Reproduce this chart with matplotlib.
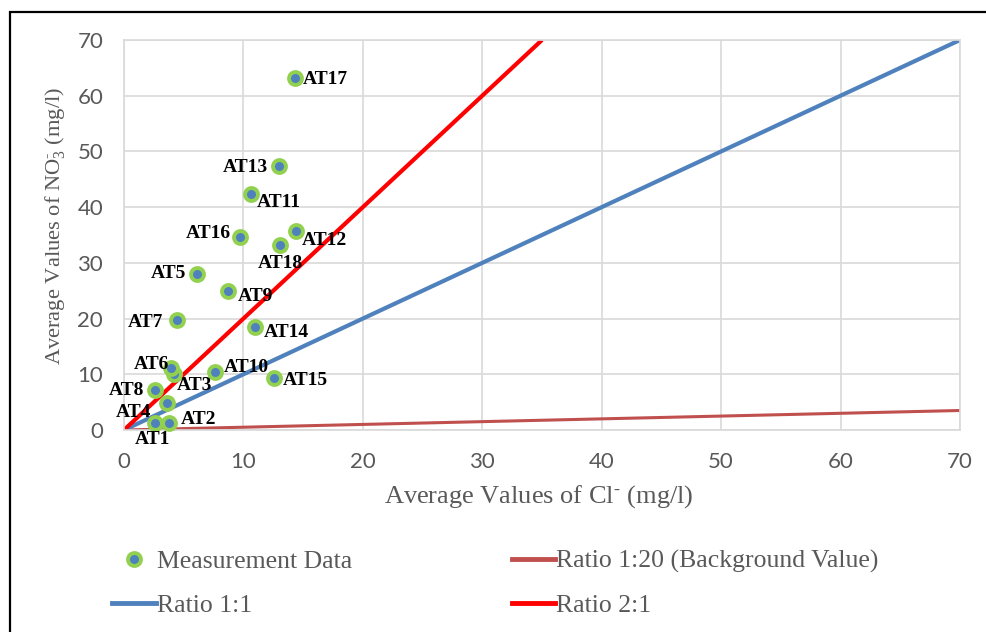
import matplotlib
matplotlib.use('Agg')
import matplotlib.pyplot as plt
from matplotlib.lines import Line2D
from matplotlib.patches import Rectangle

# measurement data: average Cl- and NO3- (mg/l)
sites = ["AT1", "AT2", "AT3", "AT4", "AT5", "AT6", "AT7", "AT8", "AT9",
         "AT10", "AT11", "AT12", "AT13", "AT14", "AT15", "AT16", "AT17", "AT18"]
cl = [2.6, 3.8, 4.2, 3.6, 6.1, 3.9, 4.4, 2.6, 8.7,
      7.6, 10.6, 14.4, 13.0, 11.0, 12.6, 9.7, 14.3, 13.1]
no3 = [1.3, 1.3, 10.0, 4.9, 28.0, 11.1, 19.7, 7.1, 24.9,
       10.5, 42.4, 35.7, 47.4, 18.5, 9.3, 34.6, 63.2, 33.2]

# reference ratio lines (NO3 : Cl)
ratio_x = [0, 70]
ratio_1_20 = [0, 3.5]
ratio_1_1 = [0, 70]
ratio_2_1_x = [0, 35]
ratio_2_1 = [0, 70]

# label placement (offset pixels, alignment) per site
label_pos = {
    "AT1": ((-3, -17), "center"), "AT2": ((11, 3), "left"), "AT3": ((3, -11), "left"),
    "AT4": ((-16, -10), "right"), "AT5": ((-11, 0), "right"), "AT6": ((-1, 4), "right"),
    "AT7": ((-13, -2), "right"), "AT8": ((-11, 0), "right"), "AT9": ((10, -5), "left"),
    "AT10": ((9, 4), "left"), "AT11": ((6, -9), "left"), "AT12": ((6, -9), "left"),
    "AT13": ((-11, -2), "right"), "AT14": ((8, -6), "left"), "AT15": ((8, -2), "left"),
    "AT16": ((-9, 4), "right"), "AT17": ((8, -2), "left"), "AT18": ((0, -18), "center"),
}

grey = "#595959"
serif = "Liberation Serif"
plt.rcParams['mathtext.fontset'] = 'custom'
plt.rcParams['mathtext.rm'] = serif
plt.rcParams['mathtext.it'] = serif

fig = plt.figure(figsize=(9.86, 6.32), dpi=100)
ax = fig.add_axes([124/986, 1 - 430/632, 836/986, 390/632])

ax.plot(ratio_x, ratio_1_20, color="#C0504D", lw=2.2, solid_capstyle='butt', zorder=2)
ax.plot(ratio_x, ratio_1_1, color="#4F81BD", lw=3, solid_capstyle='butt', zorder=2)
ax.plot(ratio_2_1_x, ratio_2_1, color="#FF0000", lw=3, solid_capstyle='butt', zorder=2)
ax.plot(cl, no3, ls='none', marker='o', ms=9.3, mfc="#4F81BD", mec="#92D050", mew=2.8,
        zorder=3, clip_on=False)

for s, x, y in zip(sites, cl, no3):
    off, ha = label_pos[s]
    ax.annotate(s, (x, y), xytext=off, textcoords='offset pixels', ha=ha, va='center',
                fontsize=14, fontweight='bold', family=serif, color='black', zorder=4)

ax.set_xlim(0, 70)
ax.set_ylim(0, 70)
ax.set_xticks(range(0, 71, 10))
ax.set_yticks(range(0, 71, 10))
ax.grid(True, color="#D9D9D9", lw=1.2)
ax.set_axisbelow(True)
for sp in ax.spines.values():
    sp.set_color("#D9D9D9")
    sp.set_linewidth(1.2)
ax.tick_params(length=0, labelsize=16, labelcolor=grey)
ax.tick_params(axis='x', pad=16)
ax.tick_params(axis='y', pad=15)
for lab in ax.get_xticklabels() + ax.get_yticklabels():
    lab.set_family("Lato")

fig.text(539/986, 1 - 497/632, r"Average Values of Cl$^{\text{-}}$ (mg/l)", ha='center', va='center',
         fontsize=19, family=serif, color=grey)
fig.text(55/986, 1 - 226/632, r"Average Values of NO$_3^{\text{-}}$ (mg/l)", ha='center', va='center',
         rotation=90, fontsize=16.2, family=serif, color=grey)

handles = [
    Line2D([], [], ls='none', marker='o', ms=9.3, mfc="#4F81BD", mec="#92D050", mew=2.8),
    Line2D([], [], color="#4F81BD", lw=3.5),
    Line2D([], [], color="#C0504D", lw=3.5),
    Line2D([], [], color="#FF0000", lw=3.5),
]
labels = ["Measurement Data", "Ratio 1:1", "Ratio 1:20 (Background Value)", "Ratio 2:1"]
leg = fig.legend(handles, labels, ncol=2, loc='upper left', bbox_to_anchor=(112/986, 1 - 550/632),
                 frameon=False, borderpad=0, borderaxespad=0, handlelength=1.7, handletextpad=0.05,
                 columnspacing=6.2, labelspacing=0.8, prop={'family': serif, 'size': 18.5})
for t in leg.get_texts():
    t.set_color(grey)

# page frame around the figure
fig.patches.append(Rectangle((10/986, -0.1), 1.2, 1 - 12/632 + 0.1, transform=fig.transFigure,
                             fill=False, ec='black', lw=1.6))

fig.savefig("out.png", dpi=100)
